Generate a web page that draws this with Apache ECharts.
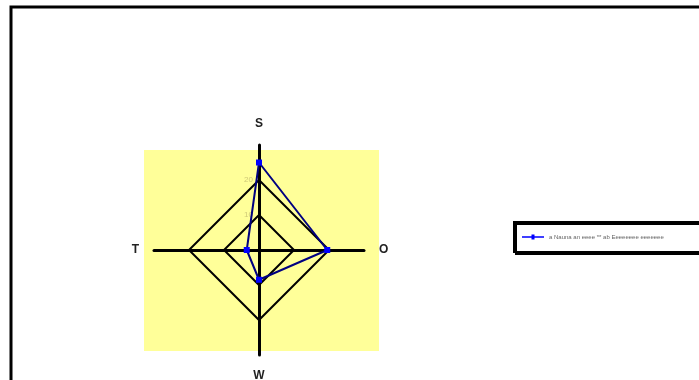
<!DOCTYPE html>
<html>
<head>
<meta charset="utf-8">
<script src="https://cdn.jsdelivr.net/npm/echarts@6/dist/echarts.min.js"></script>
<style>
  html, body { margin: 0; padding: 0; background: #fff; }
  #chart { width: 699px; height: 380px; }
</style>
</head>
<body>
<div id="chart"></div>
<script>
// 坐标轴名称（ECharts 雷达图逆时针排列：上、左、下、右）
const axisNames = ['S', 'T', 'W', 'O']
// 数据值
const seriesValues = [25, 3.5, 8.5, 19.5]
const seriesName = 'a Nauna an eeee ** ab Eeeeeeee eeeeeee'
const axisMax = 30
const tickLabels = ['10', '20']

const myRadar = echarts.init(document.querySelector('#chart'))
const option = {
  animation: false,
  backgroundColor: '#fff',
  graphic: [
    // 外框
    {
      type: 'rect',
      z: -10,
      shape: { x: 11, y: 7, width: 720, height: 400 },
      style: { fill: 'none', stroke: '#000', lineWidth: 3 },
    },
    // 绘图区黄色背景
    {
      type: 'rect',
      z: -10,
      shape: { x: 144, y: 150, width: 235, height: 201 },
      style: { fill: '#ffff99' },
    },
  ],
  legend: {
    left: 514,
    top: 222,
    orient: 'vertical',
    padding: [12, 80, 12, 8],
    itemWidth: 22,
    itemHeight: 6,
    itemGap: 4,
    icon: 'path://M0,2.2h22v1.6h-22z M9.5,0.5h3v5h-3z',
    backgroundColor: '#fff',
    borderColor: '#000',
    borderWidth: 2,
    shadowColor: '#000',
    shadowOffsetX: 2,
    shadowOffsetY: 2,
    shadowBlur: 0,
    textStyle: { fontSize: 6, color: '#666', fontFamily: 'Liberation Sans' },
    data: [seriesName],
  },
  radar: {
    center: [259, 250],
    radius: 105,
    startAngle: 90,
    shape: 'polygon',
    splitNumber: 3,
    nameGap: 15,
    axisName: {
      color: '#222',
      fontSize: 12,
      fontWeight: 'bold',
      fontFamily: 'Liberation Sans',
    },
    indicator: axisNames.map((name, i) => {
      const item = { name, min: 0, max: axisMax }
      // 只在第一根轴上显示刻度标签
      if (i === 0) {
        item.axisLabel = {
          show: true,
          color: '#cfc978',
          fontSize: 8,
          fontFamily: 'Liberation Sans',
          margin: 6,
          formatter: val => (tickLabels.includes(String(val)) ? String(val) : ''),
        }
      }
      return item
    }),
    axisLine: { lineStyle: { color: '#000', width: 3 } },
    axisTick: { show: false },
    splitLine: {
      lineStyle: {
        color: ['#000', '#000', '#000', 'rgba(0,0,0,0)'],
        width: 2,
      },
    },
    splitArea: { show: false },
  },
  series: [
    {
      type: 'radar',
      name: seriesName,
      symbol: 'rect',
      symbolSize: 6,
      lineStyle: { color: '#000080', width: 2 },
      itemStyle: { color: '#0000ff' },
      data: [{ value: seriesValues, name: seriesName }],
    },
  ],
}
myRadar.setOption(option)
</script>
</body>
</html>
